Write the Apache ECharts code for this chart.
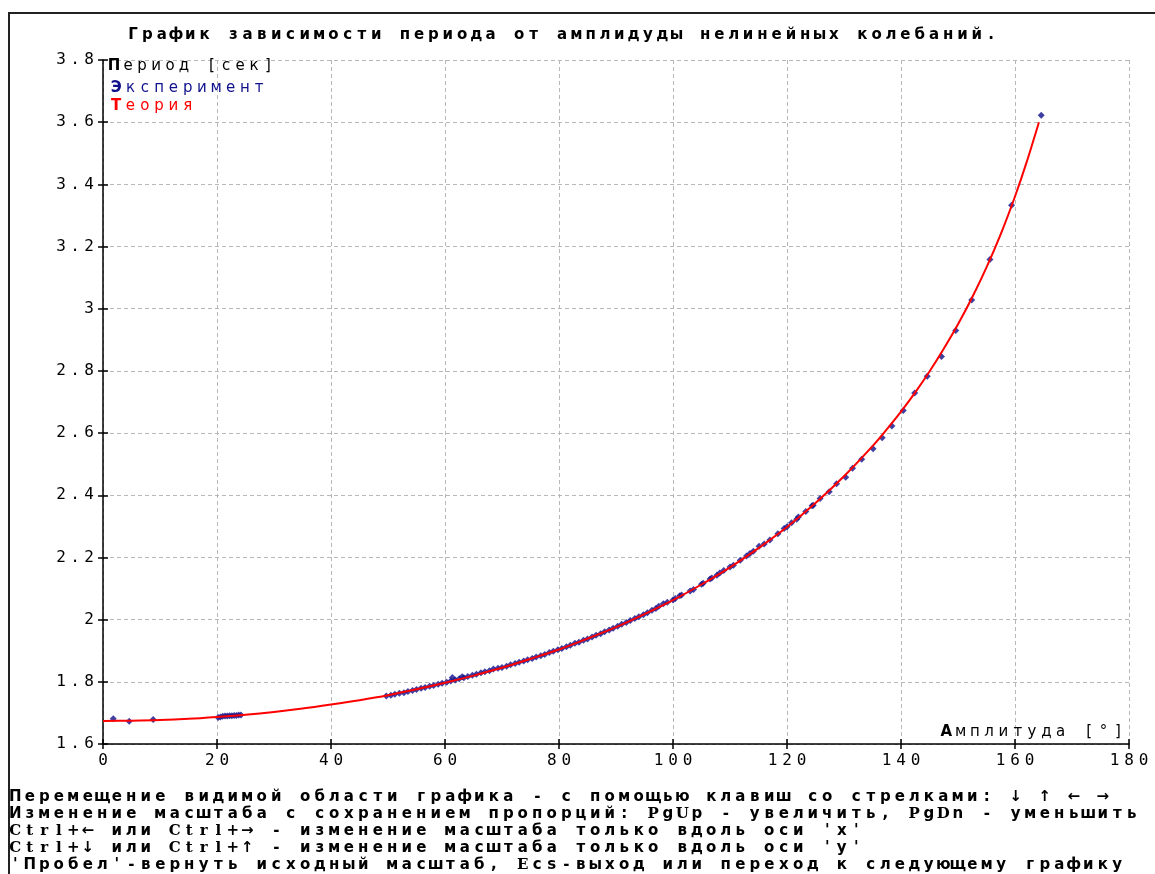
<!DOCTYPE html>
<html>
<head>
<meta charset="utf-8">
<script src="https://cdn.jsdelivr.net/npm/echarts@6/dist/echarts.min.js"></script>
<style>
  html, body { margin: 0; padding: 0; background: #fff; }
  #chart { width: 1155px; height: 874px; }
</style>
</head>
<body>
<div id="chart"></div>
<script>
// Эксперимент: амплитуда [°] и период [сек]
const expAngle = [1.8, 4.6, 8.8, 20.2, 20.6, 21.0, 21.4, 21.8, 22.2, 22.6, 23.0, 23.4, 23.8, 24.2,
  49.7, 50.5, 51.2, 52.0, 52.8, 53.5, 54.3, 55.0, 55.8, 56.5, 57.3, 58.0, 58.8, 59.5, 60.3, 61.0, 61.3, 61.8, 62.5, 63.0, 63.3,
  64.0, 64.8, 65.5, 66.3, 67.0, 67.8, 68.5, 69.3, 70.0, 70.8, 71.5, 72.3, 73.0, 73.8, 74.5, 75.3, 76.0, 76.8, 77.5, 78.3,
  79.0, 79.8, 80.5, 81.3, 82.0, 82.8, 83.5, 84.3, 85.0, 85.8, 86.5, 87.3, 88.0, 88.8, 89.5, 90.3, 91.0, 91.8, 92.5, 93.3,
  94.0, 94.8, 95.5, 96.3, 97.0, 97.5, 98.3, 99.0, 100.0, 100.4, 101.2, 101.5, 103.0, 103.6, 105.0, 105.3, 106.5, 106.8,
  107.7, 108.2, 108.9, 110.0, 110.6, 111.8, 112.9, 113.5, 114.1, 115.1, 116.0, 117.0, 118.4, 119.5, 120.0, 120.8, 121.7,
  122.0, 123.3, 124.4, 124.6, 125.8, 127.4, 128.7, 130.3, 131.5, 133.1, 135.1, 136.7, 138.4, 140.4, 142.4, 144.6, 147.1,
  149.6, 152.4, 155.6, 159.4, 164.6];
const expPeriod = [1.681, 1.673, 1.679, 1.685, 1.687, 1.689, 1.690, 1.690, 1.691, 1.691, 1.692, 1.692, 1.693, 1.693,
  1.754, 1.757, 1.760, 1.763, 1.765, 1.769, 1.772, 1.775, 1.779, 1.782, 1.786, 1.788, 1.792, 1.795, 1.799, 1.803, 1.814, 1.806, 1.810, 1.816, 1.813,
  1.817, 1.821, 1.824, 1.829, 1.832, 1.836, 1.841, 1.844, 1.846, 1.850, 1.855, 1.859, 1.863, 1.867, 1.871, 1.875, 1.880, 1.884, 1.888, 1.894,
  1.898, 1.903, 1.907, 1.913, 1.918, 1.924, 1.927, 1.934, 1.938, 1.944, 1.950, 1.955, 1.961, 1.967, 1.972, 1.979, 1.985, 1.991, 1.997, 2.004,
  2.009, 2.016, 2.022, 2.030, 2.036, 2.043, 2.051, 2.056, 2.063, 2.068, 2.077, 2.079, 2.092, 2.097, 2.114, 2.117, 2.131, 2.134,
  2.143, 2.150, 2.158, 2.169, 2.175, 2.191, 2.205, 2.213, 2.220, 2.236, 2.243, 2.256, 2.276, 2.293, 2.299, 2.312, 2.323,
  2.330, 2.348, 2.366, 2.368, 2.390, 2.411, 2.437, 2.458, 2.487, 2.516, 2.550, 2.585, 2.623, 2.673, 2.729, 2.783, 2.846,
  2.930, 3.028, 3.158, 3.333, 3.622];

// Теория: кривая
const theoryAngle = [0, 5, 10, 15, 20, 25, 30, 35, 40, 45, 50, 55, 60, 65, 70, 75, 80, 85, 90, 95, 100, 105, 110, 115,
  120, 125, 130, 135, 137.5, 140, 142.5, 145, 147.5, 150, 152.5, 155, 157.5, 160, 162, 164.2];
const theoryPeriod = [1.674, 1.675, 1.677, 1.681, 1.687, 1.694, 1.703, 1.714, 1.727, 1.741, 1.757, 1.776, 1.797, 1.820,
  1.845, 1.874, 1.904, 1.939, 1.976, 2.018, 2.063, 2.113, 2.168, 2.230, 2.298, 2.375, 2.461, 2.558, 2.612, 2.669, 2.731,
  2.798, 2.871, 2.950, 3.037, 3.133, 3.240, 3.361, 3.469, 3.600];

const xTickLabels = ['0', '20', '40', '60', '80', '100', '120', '140', '160', '180'];
const yTickLabels = ['1.6', '1.8', '2', '2.2', '2.4', '2.6', '2.8', '3', '3.2', '3.4', '3.6', '3.8'];

// * — жирный, # — жирный с засечками
const titleText = '*Г*рафик зависимости периода от амплидуды нелинейных колебаний.';
const yName = '*П*ериод [сек]';
const xName = '*А*мплитуда [°]';
const legendText = { 'Эксперимент': '*Э*ксперимент', 'Теория': '*Т*еория' };
const helpLines = [
  '*П*еремещение видимой области графика - с помощью клавиш со стрелками: *↓* *↑* *←* *→*',
  '*И*зменение масштаба с сохранением пропорций: #P#g#U#p - увеличить, #P#g#D#n - уменьшить',
  '#Ctrl#+*←* или #Ctrl#+*→* - изменение масштаба только вдоль оси \'x\'',
  '#Ctrl#+*↓* или #Ctrl#+*↑* - изменение масштаба только вдоль оси \'y\'',
  '\'*П*робел\'-вернуть исходный масштаб, #E#cs-выход или переход к следующему графику'
];

const BLUE = '#10108c';
const RED = '#ff0000';
const FS = 15;

// моноширинная раскладка: каждый символ в своей ячейке
function spaced(str, p) {
  let out = '', kind = 'n';
  let bold = false, serif = false;
  for (const ch of str) {
    if (ch === '*') { bold = !bold; continue; }
    if (ch === '#') { serif = !serif; continue; }
    kind = serif ? 's' : (bold ? 'b' : 'n');
    out += '{' + p + kind + '|' + ch + '}';
  }
  return out;
}

function richFor(p, pitch, size, color, family) {
  const base = { width: pitch, height: 16, lineHeight: 16, align: 'center', fontSize: size, color: color,
    fontFamily: family || 'DejaVu Sans' };
  const r = {};
  r[p + 'n'] = Object.assign({}, base);
  r[p + 'b'] = Object.assign({}, base, { fontWeight: 'bold' });
  r[p + 's'] = Object.assign({}, base, { fontWeight: 'bold', fontFamily: 'DejaVu Serif' });
  return r;
}

// вспомогательные оси: только внутренние засечки, чтобы они пересекали ось
function tickAxis(min, max, interval, pos) {
  return {
    type: 'value', min: min, max: max, interval: interval, position: pos,
    axisLine: { show: false },
    axisTick: { show: true, inside: true, length: 5, lineStyle: { color: '#000', width: 1.5 } },
    axisLabel: { show: false },
    splitLine: { show: false }
  };
}

const chart = echarts.init(document.getElementById('chart'));

const titles = [{
  text: spaced(titleText, 't'),
  left: 126, top: 27, padding: 0,
  textStyle: { rich: richFor('t', 14.3, FS, '#000') }
}];
helpLines.forEach((line, i) => {
  titles.push({
    text: spaced(line, 'h'),
    left: 8, top: 789 + i * 17, padding: 0,
    textStyle: { rich: richFor('h', 14.5, FS, '#000') }
  });
});

chart.setOption({
  animation: false,
  backgroundColor: '#fff',
  title: titles,
  graphic: [{
    type: 'rect',
    shape: { x: 9, y: 13, width: 1200, height: 900 },
    style: { fill: 'none', stroke: '#222', lineWidth: 2 },
    silent: true
  }],
  legend: {
    orient: 'vertical',
    left: 103, top: 80, padding: 0,
    itemWidth: 0, itemHeight: 0, itemGap: 2,
    selectedMode: false,
    formatter: name => spaced(legendText[name], name === 'Теория' ? 'r' : 'e'),
    textStyle: { rich: Object.assign({}, richFor('e', 14.3, FS, BLUE), richFor('r', 14.3, FS, RED)) },
    data: ['Эксперимент', 'Теория']
  },
  grid: { left: 103, right: 26, top: 60, bottom: 130 },
  xAxis: [{
    type: 'value',
    min: 0, max: 180, interval: 20,
    position: 'bottom',
    name: spaced(xName, 'x'),
    nameLocation: 'end',
    nameGap: -4,
    nameTextStyle: { align: 'right', verticalAlign: 'bottom', padding: [0, 0, 4, 0],
      rich: richFor('x', 14.3, FS, '#000') },
    axisLine: { lineStyle: { color: '#000', width: 1.5 } },
    axisTick: { length: 5, lineStyle: { color: '#000', width: 1.5 } },
    axisLabel: { margin: 9, formatter: (v, i) => spaced(xTickLabels[i], 'a'),
      rich: richFor('a', 14.5, 16, '#000', 'DejaVu Sans Mono') },
    splitLine: { lineStyle: { color: '#b8b8b8', type: [4, 3], width: 1 } }
  }, tickAxis(0, 180, 20, 'bottom')],
  yAxis: [{
    type: 'value',
    min: 1.6, max: 3.8, interval: 0.2,
    position: 'left',
    name: spaced(yName, 'y'),
    nameLocation: 'end',
    nameGap: 2,
    nameTextStyle: { align: 'left', verticalAlign: 'top', padding: [0, 0, 0, 4],
      rich: richFor('y', 14, FS, '#000') },
    axisLine: { show: true, lineStyle: { color: '#000', width: 1.5 } },
    axisTick: { show: true, length: 5, lineStyle: { color: '#000', width: 1.5 } },
    axisLabel: { margin: 7, formatter: (v, i) => spaced(yTickLabels[i], 'a'),
      rich: richFor('a', 14, 16, '#000', 'DejaVu Sans Mono') },
    splitLine: { lineStyle: { color: '#b8b8b8', type: [4, 3], width: 1 } }
  }, tickAxis(1.6, 3.8, 0.2, 'left')],
  series: [
    {
      name: 'Эксперимент',
      type: 'scatter',
      symbol: 'diamond',
      symbolSize: 7,
      itemStyle: { color: BLUE },
      data: expAngle.map((a, i) => [a, expPeriod[i]])
    },
    {
      name: 'Теория',
      type: 'line',
      showSymbol: false,
      smooth: 0.3,
      lineStyle: { color: RED, width: 2 },
      itemStyle: { color: RED },
      data: theoryAngle.map((a, i) => [a, theoryPeriod[i]])
    }
  ]
});
</script>
</body>
</html>
